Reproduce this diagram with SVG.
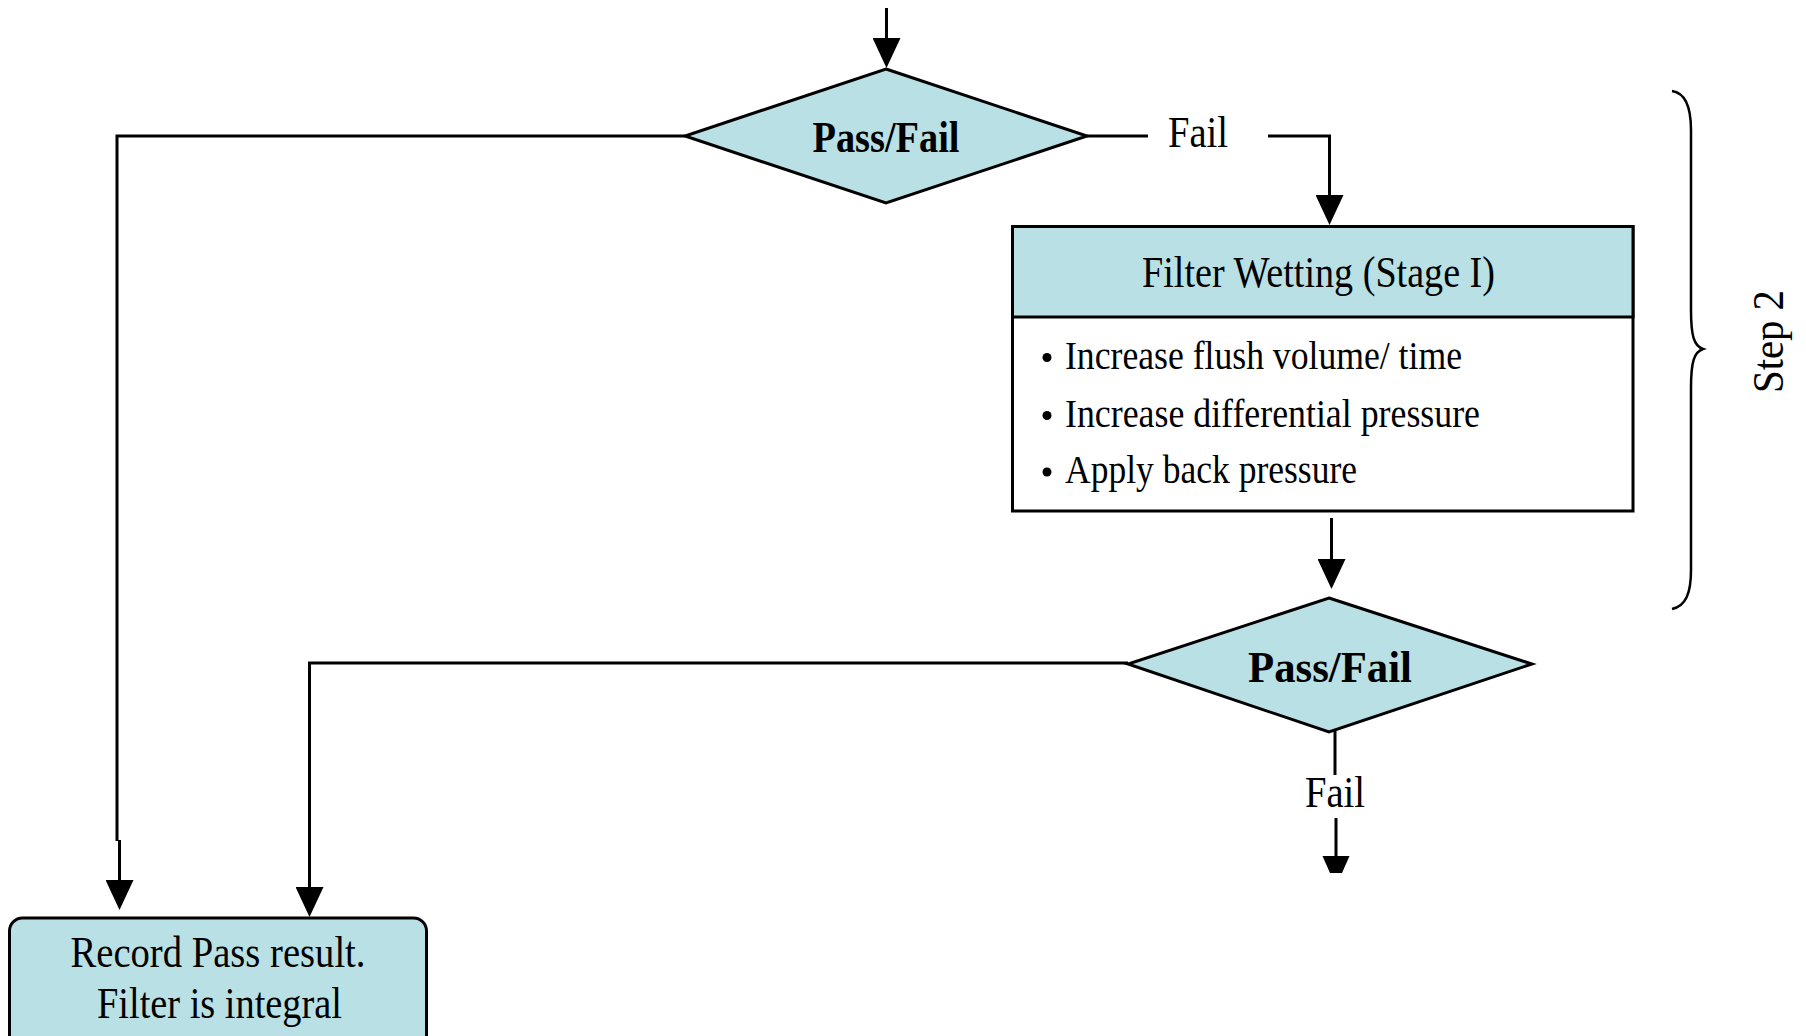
<svg xmlns="http://www.w3.org/2000/svg" width="1806" height="1036" viewBox="0 0 1806 1036">
<style>
.t{font-family:"Liberation Serif","Times New Roman",serif;fill:#000}
.b{font-weight:bold}
.shape{fill:#b9e0e4;stroke:#000;stroke-width:3}
.ln{fill:none;stroke:#000;stroke-width:3}
</style>
<defs>
<marker id="arr" markerUnits="userSpaceOnUse" markerWidth="30" markerHeight="28" viewBox="0 0 30 28" refX="0" refY="14" orient="auto">
<path d="M0,0 L30,14 L0,28 Z" fill="#000"/>
</marker>
</defs>
<rect width="1806" height="1036" fill="#fff"/>
<g id="connectors">
<path class="ln" d="M886.5,8 V38" marker-end="url(#arr)"/>
<path class="ln" d="M685,136 H117 V841 M119.5,840 V880" marker-end="url(#arr)"/>
<path class="ln" d="M1087,136 H1148"/>
<path class="ln" d="M1268,136 H1329.5 V195" marker-end="url(#arr)"/>
<path class="ln" d="M1331.5,518 V559" marker-end="url(#arr)"/>
<path class="ln" d="M1128,663 H309.5 V887" marker-end="url(#arr)"/>
<path class="ln" d="M1335,731 V775"/>
<path class="ln" d="M1336,818 V857"/>
<polygon points="1322.5,856 1349.5,856 1342,873 1330,873" fill="#000"/>
<text class="t" x="1198" y="147" font-size="44" text-anchor="middle" textLength="60" lengthAdjust="spacingAndGlyphs">Fail</text>
<text class="t" x="1335" y="807" font-size="44" text-anchor="middle" textLength="60" lengthAdjust="spacingAndGlyphs">Fail</text>
</g>
<g id="decision1">
<polygon class="shape" points="886,69 1087,136 886,203 685,136"/>
<text class="t b" x="886" y="152" font-size="45" text-anchor="middle" textLength="147" lengthAdjust="spacingAndGlyphs">Pass/Fail</text>
</g>
<g id="filter-wetting">
<rect x="1012.5" y="226.5" width="620.5" height="284.5" fill="#fff" stroke="#000" stroke-width="3"/>
<rect x="1012.5" y="226.5" width="620.5" height="90.5" class="shape"/>
<text class="t" x="1318.5" y="287" font-size="44" text-anchor="middle" textLength="353" lengthAdjust="spacingAndGlyphs">Filter Wetting (Stage I)</text>
<circle cx="1047" cy="357.5" r="4.5"/>
<circle cx="1047" cy="415.5" r="4.5"/>
<circle cx="1047" cy="472" r="4.5"/>
<text class="t" x="1065" y="369" font-size="40" textLength="397" lengthAdjust="spacingAndGlyphs">Increase flush volume/ time</text>
<text class="t" x="1065" y="427" font-size="40" textLength="415" lengthAdjust="spacingAndGlyphs">Increase differential pressure</text>
<text class="t" x="1065" y="483" font-size="40" textLength="292" lengthAdjust="spacingAndGlyphs">Apply back pressure</text>
</g>
<g id="decision2">
<polygon class="shape" points="1329,598 1532,664 1329,732 1128,664"/>
<text class="t b" x="1330" y="682" font-size="45" text-anchor="middle" textLength="164" lengthAdjust="spacingAndGlyphs">Pass/Fail</text>
</g>
<g id="record-pass">
<rect x="9.5" y="918" width="417" height="150" rx="13" class="shape"/>
<text class="t" x="218" y="967" font-size="44" text-anchor="middle" textLength="295" lengthAdjust="spacingAndGlyphs">Record Pass result.</text>
<text class="t" x="219.5" y="1018" font-size="44" text-anchor="middle" textLength="245" lengthAdjust="spacingAndGlyphs">Filter is integral</text>
</g>
<g id="step2">
<path fill="none" stroke="#000" stroke-width="2.5" d="M1672,91 C1686,93 1691,108 1691,130 V310 C1691,336 1694,346 1703,349 C1694,352 1691,362 1691,388 V570 C1691,593 1686,606 1672,609"/>
<text class="t" transform="translate(1783,341.5) rotate(-90)" x="0" y="0" font-size="44" text-anchor="middle" textLength="103" lengthAdjust="spacingAndGlyphs">Step 2</text>
</g>
</svg>
